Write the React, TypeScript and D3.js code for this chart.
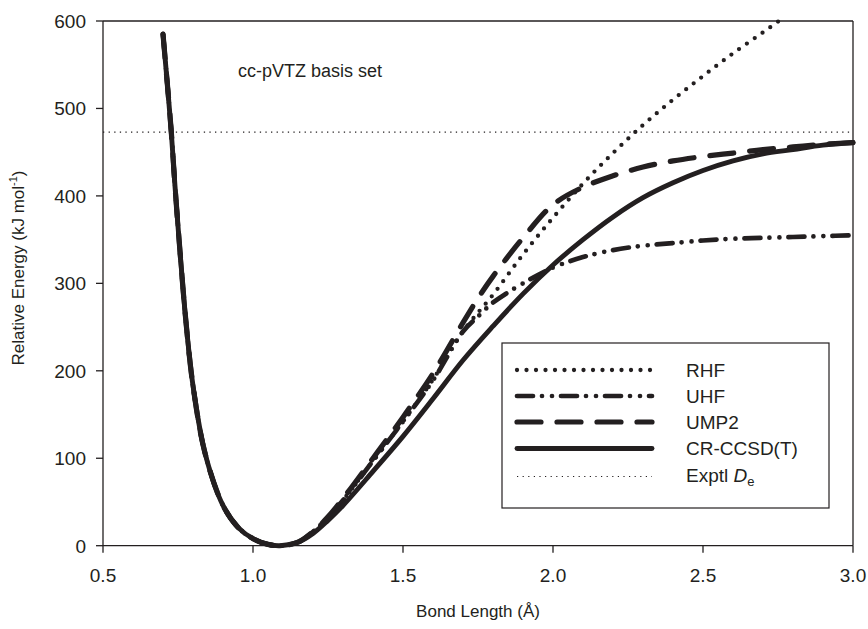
import React from "react";
import * as d3 from "d3";

const W = 868;
const H = 629;

// shared repulsive wall (all methods coincide here)
const wallR = [0.7, 0.727, 0.74, 0.757, 0.776, 0.8, 0.84, 0.9, 0.95, 1.0, 1.05, 1.09];
const wallE = [585, 476, 411, 335, 258, 183, 106, 46, 21, 8, 1.5, 0];

const ccsdR = [1.15, 1.2, 1.25, 1.3, 1.4, 1.5, 1.6, 1.7, 1.8, 1.9, 2.0, 2.1, 2.2, 2.3, 2.4, 2.5, 2.6, 2.7, 2.8, 2.9, 3.0];
const ccsdE = [4, 14, 29, 46, 85, 125, 168, 212, 251, 288, 321, 350, 376, 398, 415, 429, 440, 448, 453, 458, 461];

const rhfR = [1.15, 1.2, 1.25, 1.3, 1.4, 1.5, 1.6, 1.7, 1.8, 1.9, 2.0, 2.1, 2.2, 2.3, 2.4, 2.5, 2.6, 2.7, 2.753];
const rhfE = [4, 16, 32, 52, 97, 142, 190, 245, 287, 333, 375, 414, 449, 481, 510, 537, 563, 587, 600];

const uhfR = [1.15, 1.2, 1.25, 1.3, 1.4, 1.5, 1.6, 1.7, 1.75, 1.8, 1.9, 2.0, 2.1, 2.2, 2.3, 2.4, 2.5, 2.6, 2.7, 2.8, 2.9, 3.0];
const uhfE = [4, 16, 32, 52, 97, 142, 189, 245, 262, 278, 300, 318, 330, 338, 343, 346, 349, 351, 352, 353, 354, 355];

const ump2R = [1.15, 1.2, 1.25, 1.3, 1.4, 1.5, 1.6, 1.7, 1.75, 1.8, 1.9, 2.0, 2.1, 2.2, 2.3, 2.4, 2.5, 2.6, 2.7, 2.8, 2.9, 3.0];
const ump2E = [4, 16, 33, 54, 100, 147, 197, 255, 283, 308, 352, 390, 410, 423, 433, 440, 445, 449, 453, 456, 459, 461];

const exptlDe = 473;

const xTicks = [0.5, 1.0, 1.5, 2.0, 2.5, 3.0];
const yTicks = [0, 100, 200, 300, 400, 500, 600];

const seriesNames = ["RHF", "UHF", "UMP2", "CR-CCSD(T)"];

const INK = "#231f20";
const FONT = "'Liberation Sans', Arial, Helvetica, sans-serif";

const styles: Record<string, { width: number; dash?: string }> = {
  RHF: { width: 4.3, dash: "0 9.5" },
  UHF: { width: 4.7, dash: "16 9 0 10 0 9" },
  UMP2: { width: 5.2, dash: "24 16" },
  "CR-CCSD(T)": { width: 4.9 },
};

function join(rs: number[], es: number[]) {
  return wallR.map((r, i) => [r, wallE[i]]).concat(rs.map((r, i) => [r, es[i]]));
}

export default function App() {
  const x = d3.scaleLinear().domain([0.5, 3.0]).range([103, 853]);
  const y = d3.scaleLinear().domain([0, 600]).range([545.7, 21]);

  const line = d3
    .line<number[]>()
    .x((d) => x(d[0]))
    .y((d) => y(d[1]))
    .curve(d3.curveCatmullRom.alpha(0.5));

  const series: Record<string, number[][]> = {
    RHF: join(rhfR, rhfE),
    UHF: join(uhfR, uhfE),
    UMP2: join(ump2R, ump2E),
    "CR-CCSD(T)": join(ccsdR, ccsdE),
  };

  const [x0, x1] = x.range();
  const [yb, yt] = y.range();

  const legX = 502;
  const legY = 343;
  const rowY = [370, 396, 422, 448.5, 476.5];

  return (
    <svg
      width={W}
      height={H}
      style={{ position: "absolute", left: 0, top: 0, background: "#fff" }}
      fontFamily={FONT}
    >
      {/* frame */}
      <line x1={x0} x2={x0} y1={yt} y2={yb} stroke={INK} strokeWidth={1.3} />
      <line x1={x0} x2={x1} y1={yb} y2={yb} stroke={INK} strokeWidth={1.3} />
      <line x1={x0} x2={x1} y1={yt} y2={yt} stroke={INK} strokeWidth={1.3} />
      <line x1={x1} x2={x1} y1={yt} y2={yb} stroke={INK} strokeWidth={1.3} />

      {/* y ticks */}
      {yTicks.map((t) => (
        <g key={"y" + t}>
          <line x1={x0 - 7} x2={x0} y1={y(t)} y2={y(t)} stroke={INK} strokeWidth={1.3} />
          <text x={x0 - 17} y={y(t)} dy="0.36em" textAnchor="end" fontSize={19} fill={INK}>
            {t}
          </text>
        </g>
      ))}

      {/* x ticks */}
      {xTicks.map((t) => (
        <g key={"x" + t}>
          <line x1={x(t)} x2={x(t)} y1={yb} y2={yb + 7} stroke={INK} strokeWidth={1.3} />
          <text x={x(t)} y={582} textAnchor="middle" fontSize={19} fill={INK}>
            {t.toFixed(1)}
          </text>
        </g>
      ))}

      {/* axis titles */}
      <text x={(x0 + x1) / 2} y={617} textAnchor="middle" fontSize={17} fill={INK}>
        Bond Length (Å)
      </text>
      <text
        transform={`translate(24,268) rotate(-90)`}
        textAnchor="middle"
        fontSize={17}
        fill={INK}
      >
        Relative Energy (kJ mol
        <tspan fontSize={11} dy={-7}>-1</tspan>
        <tspan dy={7}>)</tspan>
      </text>

      <text x={238} y={77} fontSize={18} fill={INK}>
        cc-pVTZ basis set
      </text>

      {/* experimental De */}
      <line
        x1={x0}
        x2={x1}
        y1={y(exptlDe)}
        y2={y(exptlDe)}
        stroke={INK}
        strokeWidth={1.3}
        strokeDasharray="1.3 4.3"
      />

      {/* curves */}
      {seriesNames.map((name) => (
        <path
          key={name}
          d={line(series[name]) || ""}
          fill="none"
          stroke={INK}
          strokeWidth={styles[name].width}
          strokeDasharray={styles[name].dash}
          strokeLinecap="round"
          strokeLinejoin="round"
        />
      ))}

      {/* legend */}
      <rect x={legX} y={legY} width={327} height={165} fill="#fff" stroke={INK} strokeWidth={1.2} />
      {seriesNames.map((name, i) => (
        <g key={"leg" + name}>
          <line
            x1={517}
            x2={652}
            y1={rowY[i]}
            y2={rowY[i]}
            stroke={INK}
            strokeWidth={styles[name].width}
            strokeDasharray={styles[name].dash}
            strokeLinecap="round"
          />
          <text x={686} y={rowY[i]} dy="0.36em" fontSize={19} fill={INK}>
            {name}
          </text>
        </g>
      ))}
      <line
        x1={517}
        x2={652}
        y1={rowY[4]}
        y2={rowY[4]}
        stroke={INK}
        strokeWidth={1.2}
        strokeDasharray="1.2 4.4"
      />
      <text x={686} y={482} fontSize={19} fill={INK}>
        Exptl <tspan fontStyle="italic">D</tspan>
        <tspan fontSize={13} dy={4}>e</tspan>
      </text>
    </svg>
  );
}
